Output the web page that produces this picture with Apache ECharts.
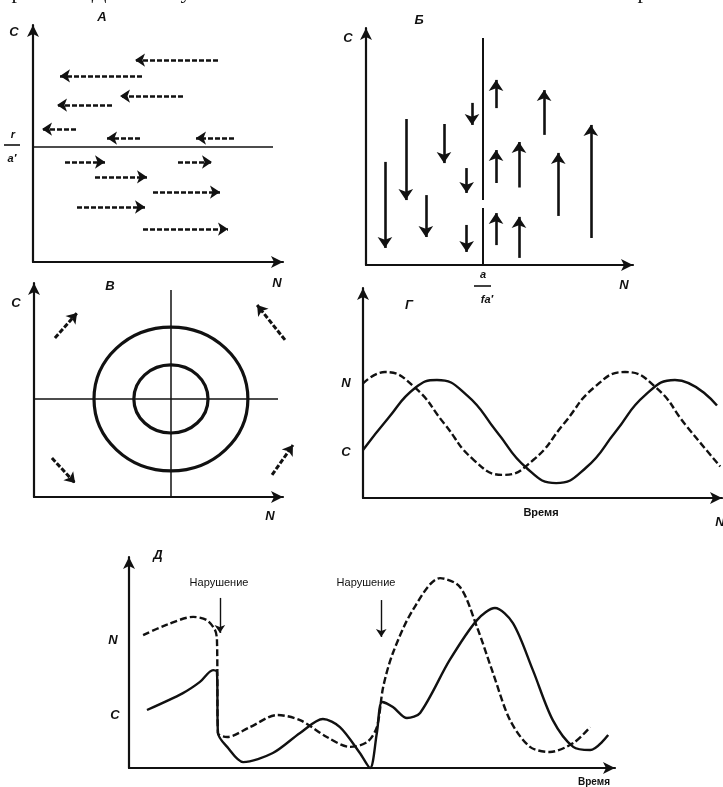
<!DOCTYPE html>
<html>
<head>
<meta charset="utf-8">
<script src="https://cdn.jsdelivr.net/npm/echarts@6/dist/echarts.min.js"></script>
<style>
html,body{margin:0;padding:0;background:#fff;}
#c{width:723px;height:787px;}
</style>
</head>
<body>
<div id="c"></div>
<script>
// ---------- Panel A: horizontal arrows [x1, y1, x2, y2] (head at x2,y2) ----------
const panelAArrows = [
  [7.4, 8.52, 4.08, 8.52],
  [4.36, 7.85, 1.08, 7.85],
  [6.0, 7.0, 3.48, 7.0],
  [3.16, 6.62, 0.96, 6.62],
  [1.72, 5.61, 0.36, 5.61],
  [4.28, 5.23, 2.96, 5.23],
  [8.04, 5.23, 6.52, 5.23],
  [1.28, 4.22, 2.88, 4.22],
  [5.8, 4.22, 7.16, 4.22],
  [2.48, 3.59, 4.56, 3.59],
  [4.8, 2.95, 7.48, 2.95],
  [1.76, 2.32, 4.48, 2.32],
  [4.4, 1.39, 7.8, 1.39]
];
const panelAEquilibrium = [[0, 4.85], [9.6, 4.85]];

// ---------- Panel Б: vertical arrows [x, yStart, yEnd] ----------
const panelBArrows = [
  [0.71, 4.35, 0.72],
  [1.49, 6.16, 2.74],
  [2.24, 2.95, 1.18],
  [2.92, 5.95, 4.30],
  [3.97, 6.84, 5.91],
  [3.77, 4.09, 3.04],
  [3.77, 1.69, 0.55],
  [4.87, 0.84, 2.19],
  [4.87, 3.46, 4.85],
  [4.87, 6.62, 7.81],
  [5.73, 0.30, 2.03],
  [5.73, 3.27, 5.19],
  [6.67, 5.49, 7.38],
  [7.20, 2.07, 4.73],
  [8.42, 1.14, 5.91]
];
const panelBEquilibrium = [[[4.38, 0], [4.38, 2.4]], [[4.38, 2.74], [4.38, 9.58]]];

// ---------- Panel В: cycles (center x, center y, rx, ry) and flow arrows ----------
const panelCCycles = [
  [5.5, 4.58, 3.09, 3.36],
  [5.5, 4.58, 1.49, 1.59]
];
const panelCCross = [
  [[5.5, 0], [5.5, 9.67]],
  [[0, 4.58], [9.8, 4.58]]
];
const panelCArrows = [
  [0.84, 7.43, 1.73, 8.6],
  [10.08, 7.34, 8.96, 8.97],
  [0.72, 1.82, 1.65, 0.65],
  [9.56, 1.03, 10.4, 2.43]
];

// ---------- Panel Г: time series ----------
const panelDN = [[0, 5.45], [0.61, 6.0], [1.43, 5.28], [2.26, 3.55], [3.08, 1.82], [3.9, 1.1], [4.75, 1.82], [5.6, 3.55], [6.45, 5.28], [7.3, 6.0], [8.15, 5.28], [9.0, 3.45], [9.95, 1.5]];
const panelDC = [[0, 2.29], [0.7, 3.8], [1.45, 5.24], [2.06, 5.62], [2.89, 4.9], [3.72, 3.17], [4.55, 1.44], [5.38, 0.71], [6.21, 1.44], [7.04, 3.17], [7.86, 4.9], [8.69, 5.62], [9.86, 4.4]];

// ---------- Panel Д: disturbed dynamics ----------
const panelEN = [[0.29, 6.3], [0.78, 6.79], [1.32, 7.16], [1.6, 7.01], [1.77, 6.54], [1.81, 6.07], [1.83, 1.66], [2.02, 1.47], [2.49, 1.94], [3.05, 2.51], [3.52, 2.27], [4.07, 1.47], [4.55, 1.0], [4.9, 1.23], [5.1, 1.94], [5.23, 3.84], [5.43, 5.45], [5.84, 7.49], [6.4, 9.0], [6.81, 8.58], [7.16, 6.68], [7.49, 4.5], [7.84, 2.27], [8.25, 1.0], [8.66, 0.76], [9.14, 1.18], [9.49, 1.94]];
const panelEC = [[0.37, 2.75], [1.11, 3.55], [1.46, 4.08], [1.73, 4.64], [1.81, 4.55], [1.83, 1.66], [2.02, 1.0], [2.35, 0.28], [2.96, 0.71], [3.52, 1.66], [3.99, 2.32], [4.34, 1.94], [4.75, 0.71], [4.96, 0], [5.1, 1.66], [5.21, 3.13], [5.43, 2.89], [5.72, 2.37], [5.99, 2.61], [6.6, 5.12], [7.16, 7.01], [7.53, 7.58], [7.9, 6.87], [8.31, 4.64], [8.72, 2.27], [9.14, 1.0], [9.49, 0.85], [9.86, 1.56]];
const disturbanceArrows = [[1.87, 8.06, 6.4], [5.19, 7.96, 6.21]];
const disturbanceLabel = 'Нарушение';

const chart = echarts.init(document.getElementById('c'), null, {renderer: 'canvas'});

const INK = '#111';
function axis(gridIndex) {
  return {
    gridIndex: gridIndex, type: 'value', min: 0, max: 10,
    axisLine: {show: true, onZero: false, lineStyle: {color: INK, width: 2.2}, symbol: ['none', 'arrow'], symbolSize: [9, 12]},
    axisTick: {show: false}, axisLabel: {show: false}, splitLine: {show: false}
  };
}
const grids = [
  {left: 33, top: 25, width: 250, height: 237},
  {left: 366, top: 28, width: 267, height: 237},
  {left: 34, top: 283, width: 249, height: 214},
  {left: 363, top: 288, width: 359, height: 210},
  {left: 129, top: 557, width: 486, height: 211}
];

function arrowLines(g, data, dashed, width, symSize) {
  return {
    type: 'lines', coordinateSystem: 'cartesian2d', xAxisIndex: g, yAxisIndex: g, clip: false,
    symbol: ['none', 'arrow'], symbolSize: symSize || 10,
    lineStyle: {color: INK, width: width || 2.5, type: dashed ? [5, 2] : 'solid', opacity: 1},
    data: data, silent: true, animation: false
  };
}
function plainLines(g, data, width) {
  return {
    type: 'lines', coordinateSystem: 'cartesian2d', xAxisIndex: g, yAxisIndex: g, clip: false,
    symbol: 'none', lineStyle: {color: INK, width: width || 1.5, opacity: 1},
    data: data.map(function (c) { return {coords: c}; }), silent: true, animation: false
  };
}
function curve(g, data, dashed, smooth) {
  return {type: 'line', xAxisIndex: g, yAxisIndex: g, data: data, smooth: smooth, showSymbol: false,
    silent: true, animation: false, clip: false,
    lineStyle: {color: INK, width: 2.4, type: dashed ? [7, 3] : 'solid'}};
}

const series = [];
// Panel A
series.push(arrowLines(0, panelAArrows.map(function (a) { return {coords: [[a[0], a[1]], [a[2], a[3]]]}; }), true, 2.6, 10));
series.push(plainLines(0, [panelAEquilibrium], 1.5));
// Panel Б
series.push(arrowLines(1, panelBArrows.map(function (a) { return {coords: [[a[0], a[1]], [a[0], a[2]]]}; }), false, 2.6, 11));
series.push(plainLines(1, panelBEquilibrium, 2));
// Panel В
series.push(plainLines(2, panelCCross, 1.5));
series.push({
  type: 'custom', xAxisIndex: 2, yAxisIndex: 2, silent: true, animation: false,
  data: panelCCycles,
  renderItem: function (params, api) {
    const c = api.coord([api.value(0), api.value(1)]);
    const s = api.size([api.value(2), api.value(3)]);
    return {type: 'ellipse', shape: {cx: c[0], cy: c[1], rx: s[0], ry: s[1]},
      style: {fill: 'none', stroke: INK, lineWidth: 3.2}};
  }
});
series.push(arrowLines(2, panelCArrows.map(function (a) { return {coords: [[a[0], a[1]], [a[2], a[3]]]}; }), true, 3, 10));
// Panel Г
series.push(curve(3, panelDN, true, 0.5));
series.push(curve(3, panelDC, false, 0.5));
// Panel Д
series.push(curve(4, panelEN, true, 0.3));
series.push(curve(4, panelEC, false, 0.3));
series.push(arrowLines(4, disturbanceArrows.map(function (a) { return {coords: [[a[0], a[1]], [a[0], a[2]]]}; }), false, 1.4, 8));

const LBL = 'bold italic 13px "Liberation Sans", Arial, sans-serif';
function t(x, y, text, font, align) {
  return {type: 'text', x: x, y: y, silent: true,
    style: {text: text, font: font || LBL, fill: INK, align: align || 'center', verticalAlign: 'middle'}};
}
function bar(x1, x2, y) {
  return {type: 'line', silent: true, shape: {x1: x1, y1: y, x2: x2, y2: y}, style: {stroke: INK, lineWidth: 1.6}};
}
const serif = '22px "Liberation Serif", "DejaVu Serif", serif';
function clipped(x, ch) {
  return {type: 'text', x: x, y: 3, silent: true, style: {text: ch, font: serif, fill: INK, align: 'center', verticalAlign: 'bottom'}};
}
const graphics = [
  // clipped line of text from the page above
  clipped(17, 'р'), clipped(99, 'Д'), clipped(186, 'у'), clipped(643, 'р'),
  // Panel A
  t(102, 17, 'А'), t(14, 32, 'С'), t(277, 283, 'N'),
  t(13, 135, 'r', 'bold italic 11px "Liberation Sans", sans-serif'), bar(4, 20, 145),
  t(12, 159, 'a\u2032', 'bold italic 11px "Liberation Sans", sans-serif'),
  // Panel Б
  t(419, 20, 'Б'), t(348, 38, 'С'), t(624, 285, 'N'),
  t(483, 275, 'a', 'bold italic 11px "Liberation Sans", sans-serif'), bar(474, 491, 286),
  t(487, 300, 'fa\u2032', 'bold italic 11px "Liberation Sans", sans-serif'),
  // Panel В
  t(110, 286, 'В'), t(16, 303, 'С'), t(270, 516, 'N'),
  // Panel Г
  t(409, 305, 'Г'), t(346, 383, 'N'), t(346, 452, 'С'),
  t(541, 513, 'Время', 'bold 11px "Liberation Sans", sans-serif'), t(720, 522, 'N'),
  // Panel Д
  t(158, 555, 'Д'), t(113, 640, 'N'), t(115, 715, 'С'),
  t(219, 583, disturbanceLabel, '11px "Liberation Sans", sans-serif'),
  t(366, 583, disturbanceLabel, '11px "Liberation Sans", sans-serif'),
  t(594, 782, 'Время', 'bold 10px "Liberation Sans", sans-serif')
];

chart.setOption({
  backgroundColor: '#fff',
  animation: false,
  grid: grids,
  xAxis: [0, 1, 2, 3, 4].map(axis),
  yAxis: [0, 1, 2, 3, 4].map(axis),
  series: series,
  graphic: graphics
});
</script>
</body>
</html>
